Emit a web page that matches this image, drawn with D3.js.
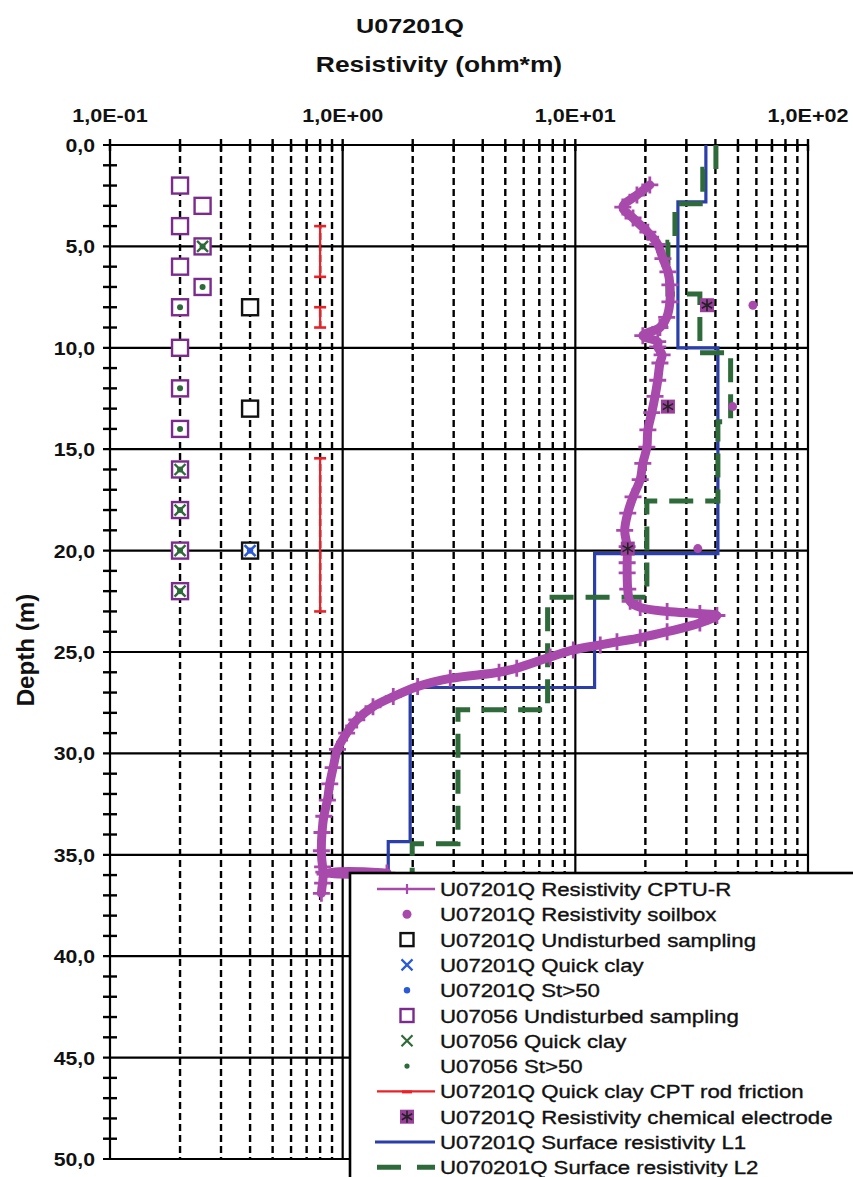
<!DOCTYPE html>
<html>
<head>
<meta charset="utf-8">
<script src="https://cdn.jsdelivr.net/npm/d3@7"></script>
<style>
  html, body { margin: 0; padding: 0; background: #fff; }
  svg { display: block; }
  text { font-family: "Liberation Sans", Arial, sans-serif; }
</style>
</head>
<body>
<svg id="chart" width="853" height="1177"></svg>
<script>
// ---------- titles and axis labels ----------
const chartTitle = "U07201Q";
const axisTitle = "Resistivity (ohm*m)";
const depthTitle = "Depth (m)";
const resTickValues = [0.1, 1, 10, 100];
const resTickLabels = ["1,0E-01", "1,0E+00", "1,0E+01", "1,0E+02"];
const depthTickValues = [0, 5, 10, 15, 20, 25, 30, 35, 40, 45, 50];
const depthTickLabels = ["0,0", "5,0", "10,0", "15,0", "20,0", "25,0", "30,0", "35,0", "40,0", "45,0", "50,0"];

// ---------- U07201Q CPTU-R resistivity profile ----------
const cptuDepth = [1.97, 2.47, 3.06, 3.6, 4.3, 4.9, 5.6, 6.26, 6.9, 7.74, 8.5, 9.0, 9.4, 9.7, 9.95,
  10.35, 10.75, 11.6, 12.4, 13.2, 14.05, 14.9, 15.7, 16.5, 17.35, 18.15, 19.0, 19.8, 20.6, 21.1,
  21.9, 22.5, 22.8, 23.0, 23.1, 23.2, 23.57, 24.0, 24.3, 24.5, 24.65, 24.9, 25.25, 25.8, 26.0,
  26.3, 26.7, 27.2, 27.7, 28.35, 29.0, 29.8, 30.7, 31.5, 32.3, 33.1, 33.9, 34.8, 35.6, 35.85,
  35.9, 35.95, 36.4, 36.9];
const cptuRes = [20.9, 18.4, 16.0, 17.7, 20.5, 22.6, 23.8, 25.0, 25.5, 25.5, 24.7, 23.1, 19.5, 22.6, 22.6,
  23.6, 23.1, 22.6, 22.0, 21.3, 20.5, 20.3, 19.5, 19.0, 17.7, 16.8, 16.3, 16.7, 16.7, 16.7,
  16.8, 17.2, 19.0, 24.8, 34.3, 40.6, 34.3, 24.8, 19.0, 15.1, 12.8, 9.8, 7.8, 5.6, 4.7,
  2.9, 2.1, 1.65, 1.35, 1.15, 1.04, 0.95, 0.91, 0.88, 0.86, 0.83, 0.815, 0.81, 0.82, 0.83,
  1.55, 0.84, 0.82, 0.81];

// ---------- point measurements ----------
const soilboxDepth = [7.9, 12.9, 19.9];
const soilboxRes = [58, 47.4, 33.6];
const electrodeDepth = [7.9, 12.9, 19.9];
const electrodeRes = [36.8, 25.0, 16.8];
const q201SamplingDepth = [8, 13, 20];
const q201SamplingRes = [0.4, 0.4, 0.4];
const q201QuickDepth = [20];
const q201QuickRes = [0.4];
const q201StDepth = [20];
const q201StRes = [0.4];
const u056SamplingDepth = [2, 3, 4, 5, 6, 7, 8, 10, 12, 14, 16, 18, 20, 22];
const u056SamplingRes = [0.2, 0.25, 0.2, 0.25, 0.2, 0.25, 0.2, 0.2, 0.2, 0.2, 0.2, 0.2, 0.2, 0.2];
const u056QuickDepth = [5, 16, 18, 20, 22];
const u056QuickRes = [0.25, 0.2, 0.2, 0.2, 0.2];
const u056StDepth = [5, 7, 8, 12, 14, 16, 18, 20, 22];
const u056StRes = [0.25, 0.25, 0.2, 0.2, 0.2, 0.2, 0.2, 0.2, 0.2];

// quick clay intervals from CPT rod friction
const rodTop = [4.0, 8.0, 15.45];
const rodBottom = [6.5, 9.0, 23.0];
const rodRes = [0.8, 0.8, 0.8];

// ---------- surface resistivity layer models ----------
const l1Top = [0, 2.8, 10.0, 20.15, 26.75, 34.35];
const l1Bottom = [2.8, 10.0, 20.15, 26.75, 34.35, 38];
const l1Res = [36.4, 27.6, 41.0, 12.1, 1.95, 1.57];
const l2Top = [0, 1.2, 2.9, 4.8, 7.35, 10.25, 13.65, 17.55, 22.3, 27.85, 34.45];
const l2Bottom = [1.2, 2.9, 4.8, 7.35, 10.25, 13.65, 17.55, 22.3, 27.85, 34.45, 38];
const l2Res = [40.2, 35.3, 26.8, 25.0, 34.3, 46.5, 41.0, 20.3, 7.6, 3.13, 1.99];

const legendLabels = [
  "U07201Q Resistivity CPTU-R",
  "U07201Q Resistivity soilbox",
  "U07201Q Undisturbed sampling",
  "U07201Q Quick clay",
  "U07201Q St>50",
  "U07056 Undisturbed sampling",
  "U07056 Quick clay",
  "U07056 St>50",
  "U07201Q Quick clay CPT rod friction",
  "U07201Q Resistivity chemical electrode",
  "U07201Q Surface resistivity L1",
  "U070201Q Surface resistivity L2"
];

// ---------- colours ----------
const C = {
  cptu: "#a84aac",
  u056: "#7b2b8c",
  green: "#2f6a3a",
  blue: "#2b3eaa",
  qblue: "#2a5ad8",
  red: "#ec2026",
  electrode: "#9a3e9c"
};

// ---------- layout ----------
const svg = d3.select("#chart");
const plot = { left: 110, right: 808, top: 145, bottom: 1159 };
const x = d3.scaleLog().domain([0.1, 100]).range([plot.left, plot.right]);
const y = d3.scaleLinear().domain([0, 50]).range([plot.top, plot.bottom]);

function label(parent, px, py, s, o = {}) {
  return parent.append("text")
    .attr("transform", `translate(${px},${py}) rotate(${o.rotate || 0}) scale(${o.sx || 1},1)`)
    .attr("text-anchor", o.anchor || "start")
    .attr("font-size", o.size || 18)
    .attr("font-weight", o.weight || "normal")
    .attr("fill", o.fill || "#000")
    .attr("stroke", o.stroke || "none")
    .attr("stroke-width", o.strokeWidth || 0)
    .text(s);
}

// ---------- grid ----------
const grid = svg.append("g");
const logTicks = x.ticks();
const isDecade = v => Math.abs(Math.log10(v) - Math.round(Math.log10(v))) < 1e-9;

grid.selectAll("line.minor").data(logTicks.filter(v => !isDecade(v))).join("line")
  .attr("x1", d => x(d)).attr("x2", d => x(d))
  .attr("y1", plot.top).attr("y2", plot.bottom)
  .attr("stroke", "#000").attr("stroke-width", 2.4).attr("stroke-dasharray", "7,4");

grid.selectAll("line.decade").data(logTicks.filter(isDecade)).join("line")
  .attr("x1", d => x(d)).attr("x2", d => x(d))
  .attr("y1", plot.top).attr("y2", plot.bottom)
  .attr("stroke", "#000").attr("stroke-width", 2.2);

grid.selectAll("line.hmajor").data(depthTickValues).join("line")
  .attr("x1", plot.left - 7).attr("x2", plot.right)
  .attr("y1", d => y(d)).attr("y2", d => y(d))
  .attr("stroke", "#000").attr("stroke-width", 2.2);

// top axis ticks crossing the frame
grid.selectAll("line.ttick").data(logTicks).join("line")
  .attr("x1", d => x(d)).attr("x2", d => x(d))
  .attr("y1", plot.top - 6).attr("y2", plot.top + 6)
  .attr("stroke", "#000").attr("stroke-width", 2.4);

// left axis minor ticks every metre
grid.selectAll("line.ltick").data(y.ticks(50).filter(d => d % 5 !== 0)).join("line")
  .attr("x1", plot.left - 7).attr("x2", plot.left + 7)
  .attr("y1", d => y(d)).attr("y2", d => y(d))
  .attr("stroke", "#000").attr("stroke-width", 2.4);

// axis tick labels
resTickValues.forEach((v, i) => label(svg, x(v), 122, resTickLabels[i],
  { anchor: "middle", size: 18, weight: "bold", sx: 1.2, fill: "#111" }));
depthTickValues.forEach((v, i) => label(svg, 95, y(v) + 7, depthTickLabels[i],
  { anchor: "end", size: 18, weight: "bold", sx: 1.18, fill: "#111" }));

// titles
label(svg, 410, 33, chartTitle, { anchor: "middle", size: 21, weight: "bold", sx: 1.2, fill: "#111" });
label(svg, 439, 72, axisTitle, { anchor: "middle", size: 22, weight: "bold", sx: 1.2, fill: "#111" });
label(svg, 34, 650, depthTitle, { anchor: "middle", size: 23, weight: "bold", rotate: -90, sx: 1.05, fill: "#111" });

// ---------- marker helpers ----------
function square(g, cx, cy, s, stroke, sw, fill = "none") {
  g.append("rect").attr("x", cx - s / 2).attr("y", cy - s / 2).attr("width", s).attr("height", s)
    .attr("fill", fill).attr("stroke", stroke).attr("stroke-width", sw);
}
function xMark(g, cx, cy, s, color, sw) {
  g.append("path").attr("d", `M${cx - s / 2},${cy - s / 2}L${cx + s / 2},${cy + s / 2}M${cx - s / 2},${cy + s / 2}L${cx + s / 2},${cy - s / 2}`)
    .attr("stroke", color).attr("stroke-width", sw).attr("fill", "none");
}
function dot(g, cx, cy, r, color) {
  g.append("circle").attr("cx", cx).attr("cy", cy).attr("r", r).attr("fill", color);
}
function asterisk(g, cx, cy, s, color, sw) {
  const a = s / 2, b = a * Math.cos(Math.PI / 6), c = a * Math.sin(Math.PI / 6);
  g.append("path").attr("d", `M${cx},${cy - a}V${cy + a}M${cx - b},${cy - c}L${cx + b},${cy + c}M${cx - b},${cy + c}L${cx + b},${cy - c}`)
    .attr("stroke", color).attr("stroke-width", sw).attr("fill", "none");
}
function plus(g, cx, cy, s, color, sw) {
  g.append("path").attr("d", `M${cx - s / 2},${cy}H${cx + s / 2}M${cx},${cy - s / 2}V${cy + s / 2}`)
    .attr("stroke", color).attr("stroke-width", sw).attr("fill", "none");
}

const marks = svg.append("g");

// quick clay intervals (red bars with end caps)
rodTop.forEach((t, i) => {
  const cx = x(rodRes[i]);
  marks.append("line").attr("x1", cx).attr("x2", cx).attr("y1", y(t)).attr("y2", y(rodBottom[i]))
    .attr("stroke", C.red).attr("stroke-width", 2.2);
  [t, rodBottom[i]].forEach(d => marks.append("line")
    .attr("x1", cx - 6).attr("x2", cx + 6).attr("y1", y(d)).attr("y2", y(d))
    .attr("stroke", C.red).attr("stroke-width", 2.6));
});

// samplings
u056SamplingDepth.forEach((d, i) => square(marks, x(u056SamplingRes[i]), y(d), 16, C.u056, 2.4, "#fff"));
q201SamplingDepth.forEach((d, i) => square(marks, x(q201SamplingRes[i]), y(d), 16, "#111", 2.4, "#fff"));
u056QuickDepth.forEach((d, i) => xMark(marks, x(u056QuickRes[i]), y(d), 11, C.green, 2.4));
u056StDepth.forEach((d, i) => dot(marks, x(u056StRes[i]), y(d), 3, C.green));
q201QuickDepth.forEach((d, i) => xMark(marks, x(q201QuickRes[i]), y(d), 11, C.qblue, 2.6));
q201StDepth.forEach((d, i) => dot(marks, x(q201StRes[i]), y(d), 3.2, C.qblue));

// ---------- surface resistivity step lines ----------
function stepPoints(tops, bottoms, vals) {
  const pts = [];
  tops.forEach((t, i) => { pts.push([vals[i], t]); pts.push([vals[i], bottoms[i]]); });
  return pts;
}
const stepLine = d3.line().x(p => x(p[0])).y(p => y(p[1]));

svg.append("path").attr("d", stepLine(stepPoints(l1Top, l1Bottom, l1Res)))
  .attr("fill", "none").attr("stroke", C.blue).attr("stroke-width", 3.2);
svg.append("path").attr("d", stepLine(stepPoints(l2Top, l2Bottom, l2Res)))
  .attr("fill", "none").attr("stroke", C.green).attr("stroke-width", 5)
  .attr("stroke-dasharray", "24,12");

// ---------- CPTU-R profile ----------
const cptu = cptuDepth.map((d, i) => [cptuRes[i], d]);
svg.append("path").attr("d", d3.line().curve(d3.curveCatmullRom.alpha(0.5)).x(p => x(p[0])).y(p => y(p[1]))(cptu))
  .attr("fill", "none").attr("stroke", C.cptu).attr("stroke-width", 9)
  .attr("stroke-linejoin", "round").attr("stroke-linecap", "round");
const cptuMarks = svg.append("g");
cptu.forEach(p => plus(cptuMarks, x(p[0]), y(p[1]), 17, C.cptu, 2.8));

// soilbox and chemical electrode
const pts = svg.append("g");
soilboxDepth.forEach((d, i) => dot(pts, x(soilboxRes[i]), y(d), 4.5, C.cptu));
electrodeDepth.forEach((d, i) => {
  square(pts, x(electrodeRes[i]), y(d), 14, C.electrode, 0, C.electrode);
  asterisk(pts, x(electrodeRes[i]), y(d), 12, "#222", 1.6);
});

// ---------- legend ----------
const lg = svg.append("g");
lg.append("rect").attr("x", 350).attr("y", 873).attr("width", 540).attr("height", 340)
  .attr("fill", "#fff").attr("stroke", "#000").attr("stroke-width", 2.6);
const rowY = i => 889 + i * 25.3;
const sx0 = 377, sx1 = 435, sc = 407;
const symbols = [
  (g, cy) => { g.append("line").attr("x1", sx0).attr("x2", sx1).attr("y1", cy).attr("y2", cy).attr("stroke", C.cptu).attr("stroke-width", 2.4); plus(g, sc, cy, 10, C.cptu, 2.2); },
  (g, cy) => dot(g, sc, cy, 4.5, C.cptu),
  (g, cy) => square(g, sc, cy, 13, "#111", 2.4),
  (g, cy) => xMark(g, sc, cy, 11, C.qblue, 2.2),
  (g, cy) => dot(g, sc, cy, 3.2, C.qblue),
  (g, cy) => square(g, sc, cy, 13, C.u056, 2.4),
  (g, cy) => xMark(g, sc, cy, 11, C.green, 2.2),
  (g, cy) => dot(g, sc, cy, 2.6, C.green),
  (g, cy) => { g.append("line").attr("x1", sx0).attr("x2", sx1).attr("y1", cy).attr("y2", cy).attr("stroke", C.red).attr("stroke-width", 2.2);
               g.append("rect").attr("x", sc - 5).attr("y", cy - 1).attr("width", 10).attr("height", 3).attr("fill", C.red); },
  (g, cy) => { square(g, sc, cy, 14, C.electrode, 0, C.electrode); asterisk(g, sc, cy, 12, "#222", 1.6); },
  (g, cy) => g.append("line").attr("x1", sx0 - 2).attr("x2", sx1).attr("y1", cy).attr("y2", cy).attr("stroke", C.blue).attr("stroke-width", 3.2),
  (g, cy) => g.append("line").attr("x1", sx0).attr("x2", sx1).attr("y1", cy).attr("y2", cy).attr("stroke", C.green).attr("stroke-width", 5).attr("stroke-dasharray", "24,16")
];
legendLabels.forEach((t, i) => {
  symbols[i](lg, rowY(i));
  label(lg, 440, rowY(i) + 7, t, { size: 19, sx: 1.17, fill: "#111", stroke: "#111", strokeWidth: 0.35 });
});
</script>
</body>
</html>
